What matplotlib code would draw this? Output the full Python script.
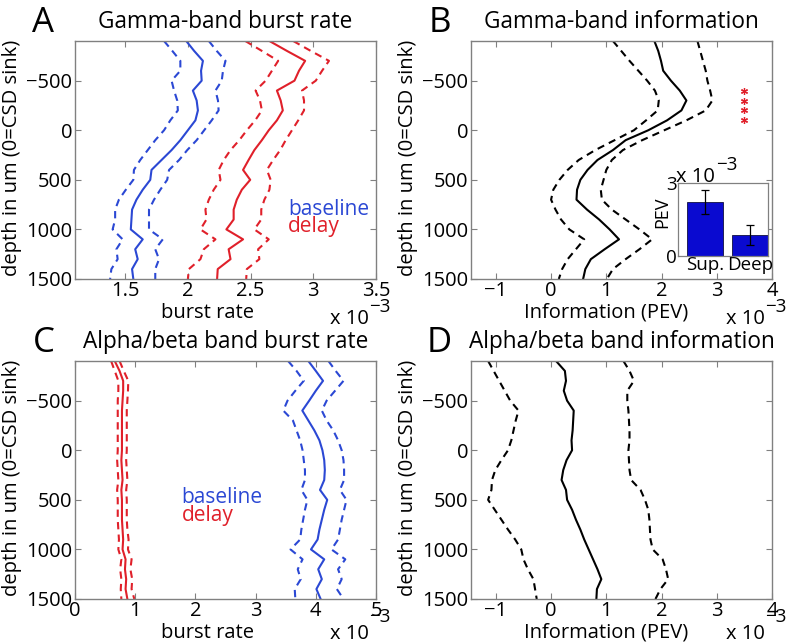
import matplotlib
matplotlib.use('Agg')
import matplotlib.pyplot as plt

plt.rcParams['font.family'] = ['Open Sans', 'DejaVu Sans']

# ---------------- data (x values in units of 1e-3) ----------------
depth = [-900, -800, -700, -600, -500, -400, -300, -200, -100, 0, 100, 200, 300,
         400, 500, 600, 700, 800, 900, 1000, 1100, 1200, 1300, 1400, 1500]

# A: gamma-band burst rate
A_base = [1.987, 2.05, 2.12, 2.105, 2.11, 2.04, 2.07, 2.08, 2.06, 2.00, 1.94, 1.87, 1.79,
          1.71, 1.70, 1.64, 1.59, 1.555, 1.55, 1.545, 1.64, 1.58, 1.60, 1.555, 1.565]
A_base_lo = [1.81, 1.876, 1.94, 1.94, 1.87, 1.89, 1.915, 1.92, 1.86, 1.81, 1.74, 1.68, 1.62,
             1.57, 1.565, 1.505, 1.45, 1.42, 1.42, 1.40, 1.48, 1.43, 1.44, 1.39, 1.38]
A_base_hi = [2.167, 2.23, 2.30, 2.28, 2.27, 2.22, 2.24, 2.245, 2.19, 2.13, 2.07, 1.995, 1.93,
             1.85, 1.835, 1.78, 1.73, 1.69, 1.69, 1.69, 1.80, 1.74, 1.77, 1.74, 1.74]
A_delay = [2.65, 2.79, 2.935, 2.886, 2.85, 2.71, 2.74, 2.757, 2.71, 2.645, 2.59, 2.53, 2.484,
           2.44, 2.497, 2.43, 2.39, 2.365, 2.365, 2.307, 2.44, 2.325, 2.34, 2.238, 2.233]
A_delay_lo = [2.458, 2.59, 2.72, 2.67, 2.62, 2.54, 2.575, 2.59, 2.537, 2.47, 2.41, 2.34, 2.286,
              2.246, 2.26, 2.206, 2.167, 2.14, 2.148, 2.10, 2.22, 2.127, 2.10, 2.008, 2.0]
A_delay_hi = [2.84, 2.98, 3.125, 3.07, 3.02, 2.91, 2.926, 2.926, 2.88, 2.83, 2.78, 2.736, 2.68,
              2.63, 2.66, 2.65, 2.61, 2.585, 2.585, 2.53, 2.645, 2.56, 2.57, 2.47, 2.465]

# B: gamma-band information (PEV)
B_mean = [1.87, 1.94, 1.99, 2.03, 2.17, 2.33, 2.45, 2.36, 2.10, 1.76, 1.35, 1.12, 0.84,
          0.66, 0.53, 0.47, 0.46, 0.65, 0.87, 1.06, 1.23, 0.97, 0.72, 0.62, 0.58]
B_lo = [1.12, 1.27, 1.42, 1.58, 1.74, 1.88, 1.95, 1.93, 1.72, 1.50, 1.15, 0.80, 0.50,
        0.30, 0.15, 0.04, 0.0, 0.08, 0.18, 0.33, 0.60, 0.45, 0.30, 0.20, 0.14]
B_hi = [2.65, 2.70, 2.75, 2.80, 2.83, 2.88, 2.92, 2.80, 2.45, 2.05, 1.65, 1.30, 1.10,
        1.00, 0.95, 0.90, 0.92, 1.10, 1.35, 1.60, 1.83, 1.60, 1.35, 1.12, 1.01]
sig_depth = [-400, -300, -200, -100]
sig_x = [3.5, 3.5, 3.5, 3.5]

# B inset
inset_cats = ['Sup.', 'Deep']
inset_vals = [2.21, 0.86]
inset_err = [0.50, 0.42]

# C: alpha/beta burst rate
C_base = [3.876, 4.0, 4.12, 4.0, 3.89, 3.776, 3.876, 3.976, 4.06, 4.11, 4.14, 4.15, 4.14,
          4.07, 4.19, 4.14, 4.10, 4.06, 4.03, 3.92, 4.14, 4.04, 4.10, 4.01, 4.08]
C_base_lo = [3.54, 3.68, 3.80, 3.66, 3.53, 3.46, 3.62, 3.68, 3.74, 3.78, 3.80, 3.82, 3.82,
             3.76, 3.86, 3.82, 3.79, 3.76, 3.74, 3.58, 3.78, 3.70, 3.75, 3.65, 3.66]
C_base_hi = [4.21, 4.33, 4.46, 4.32, 4.18, 4.10, 4.18, 4.29, 4.37, 4.43, 4.46, 4.47, 4.47,
             4.40, 4.51, 4.47, 4.43, 4.40, 4.37, 4.26, 4.49, 4.37, 4.43, 4.35, 4.46]
C_delay = [0.66, 0.74, 0.80, 0.80, 0.79, 0.78, 0.78, 0.78, 0.78, 0.78, 0.77, 0.78, 0.79,
           0.77, 0.78, 0.78, 0.78, 0.79, 0.80, 0.79, 0.84, 0.83, 0.85, 0.84, 0.87]
C_delay_lo = [0.60, 0.66, 0.72, 0.72, 0.71, 0.71, 0.71, 0.71, 0.71, 0.71, 0.70, 0.71, 0.72,
              0.70, 0.71, 0.71, 0.71, 0.72, 0.73, 0.72, 0.77, 0.75, 0.77, 0.76, 0.77]
C_delay_hi = [0.74, 0.81, 0.885, 0.88, 0.87, 0.86, 0.86, 0.86, 0.86, 0.86, 0.85, 0.86, 0.87,
              0.85, 0.86, 0.86, 0.86, 0.87, 0.89, 0.88, 0.94, 0.92, 0.95, 0.94, 0.985]

# D: alpha/beta information (PEV)
D_mean = [0.09, 0.25, 0.27, 0.23, 0.29, 0.41, 0.40, 0.39, 0.37, 0.38, 0.28, 0.22, 0.19,
          0.27, 0.29, 0.38, 0.45, 0.53, 0.60, 0.68, 0.76, 0.84, 0.91, 0.83, 0.82]
D_lo = [-1.14, -1.04, -0.94, -0.84, -0.74, -0.59, -0.64, -0.68, -0.72, -0.78, -0.90, -1.01, -1.07,
        -1.08, -1.14, -1.02, -0.90, -0.78, -0.65, -0.54, -0.50, -0.42, -0.32, -0.29, -0.26]
D_hi = [1.31, 1.42, 1.50, 1.38, 1.38, 1.40, 1.41, 1.42, 1.42, 1.40, 1.41, 1.42, 1.45,
        1.62, 1.70, 1.76, 1.78, 1.79, 1.80, 1.84, 2.02, 2.08, 2.12, 1.98, 1.89]

titles = ['Gamma-band burst rate', 'Gamma-band information',
          'Alpha/beta band burst rate', 'Alpha/beta band information']
letters = ['A', 'B', 'C', 'D']
xlabels = ['burst rate', 'Information (PEV)', 'burst rate', 'Information (PEV)']
ylabel = 'depth in um (0=CSD sink)'
yticks = [-500, 0, 500, 1000, 1500]
ytick_labels = ['\u2212500', '0', '500', '1000', '1500']

# ---------------- styling ----------------
W, H = 796, 643
BLUE = '#2b48d4'
RED = '#e0202a'
FRAME = '#808080'
DASH = (0, (3.5, 2.5))
LW = 1.5
TICK_FS = 14.5

fig = plt.figure(figsize=(W / 100, H / 100), dpi=100)


def add_ax(x0, y0, x1, y1):
    return fig.add_axes([x0 / W, 1 - y1 / H, (x1 - x0) / W, (y1 - y0) / H])


def ftext(x, y, s, **kw):
    return fig.text(x / W, 1 - y / H, s, **kw)


def style(ax, xlim, xticks, xticklabels):
    ax.set_ylim(1500, -900)
    ax.set_yticks(yticks)
    ax.set_yticklabels(ytick_labels)
    ax.set_xlim(*xlim)
    ax.set_xticks(xticks)
    ax.set_xticklabels(xticklabels)
    for s in ax.spines.values():
        s.set_color(FRAME)
        s.set_linewidth(1.0)
    ax.tick_params(direction='in', top=True, right=True, length=4, width=0.8,
                   color=FRAME, labelsize=TICK_FS, labelcolor='black')
    ax.tick_params(axis='x', pad=1.5)
    ax.tick_params(axis='y', pad=2)


boxes = [(75, 41, 376, 279), (471, 41, 772, 279), (75, 361, 376, 599), (471, 361, 772, 599)]
axs = [add_ax(*b) for b in boxes]

# A
ax = axs[0]
ax.plot(A_base, depth, color=BLUE, lw=LW)
ax.plot(A_base_lo, depth, color=BLUE, lw=LW, ls=DASH)
ax.plot(A_base_hi, depth, color=BLUE, lw=LW, ls=DASH)
ax.plot(A_delay, depth, color=RED, lw=LW)
ax.plot(A_delay_lo, depth, color=RED, lw=LW, ls=DASH)
ax.plot(A_delay_hi, depth, color=RED, lw=LW, ls=DASH)
style(ax, (1.1, 3.5), [1.5, 2, 2.5, 3, 3.5], ['1.5', '2', '2.5', '3', '3.5'])
ax.text(2.80, 800, 'baseline', color=BLUE, fontsize=15, va='center', ha='left')
ax.text(2.80, 975, 'delay', color=RED, fontsize=15, va='center', ha='left')

# B
ax = axs[1]
ax.plot(B_mean, depth, color='black', lw=LW)
ax.plot(B_lo, depth, color='black', lw=LW, ls=DASH)
ax.plot(B_hi, depth, color='black', lw=LW, ls=DASH)
ax.plot(sig_x, sig_depth, ls='none', marker=(6, 2, 0), ms=5, mew=0.9, color=RED)
style(ax, (-1.45, 4), [-1, 0, 1, 2, 3, 4], ['\u22121', '0', '1', '2', '3', '4'])

# C
ax = axs[2]
ax.plot(C_delay, depth, color=RED, lw=LW)
ax.plot(C_delay_lo, depth, color=RED, lw=LW, ls=DASH)
ax.plot(C_delay_hi, depth, color=RED, lw=LW, ls=DASH)
ax.plot(C_base, depth, color=BLUE, lw=LW)
ax.plot(C_base_lo, depth, color=BLUE, lw=LW, ls=DASH)
ax.plot(C_base_hi, depth, color=BLUE, lw=LW, ls=DASH)
style(ax, (0, 5), [0, 1, 2, 3, 4, 5], ['0', '1', '2', '3', '4', '5'])
ax.text(1.77, 480, 'baseline', color=BLUE, fontsize=15, va='center', ha='left')
ax.text(1.77, 660, 'delay', color=RED, fontsize=15, va='center', ha='left')

# D
ax = axs[3]
ax.plot(D_mean, depth, color='black', lw=LW)
ax.plot(D_lo, depth, color='black', lw=LW, ls=DASH)
ax.plot(D_hi, depth, color='black', lw=LW, ls=DASH)
style(ax, (-1.45, 4), [-1, 0, 1, 2, 3, 4], ['\u22121', '0', '1', '2', '3', '4'])

xlab_cx = [207.5, 606.5, 207.5, 606.5]
for i, (ax, (x0, y0, x1, y1)) in enumerate(zip(axs, boxes)):
    w, h = x1 - x0, y1 - y0
    ax.set_title(titles[i], fontsize=16.3, y=1 + 12.5 / h, va='baseline', pad=0)
    ax.set_xlabel(xlabels[i], fontsize=14.5)
    ax.xaxis.set_label_coords((xlab_cx[i] - x0) / w, -38.5 / h)
    ax.xaxis.label.set_va('baseline')
    ax.set_ylabel(ylabel, fontsize=14.5)
    ax.yaxis.set_label_coords((x0 - 63 - x0) / w, 0.51)
    ax.yaxis.label.set_va('center')
    # panel letter
    ftext(x0 - 31.5, y0 - 8.5, letters[i], fontsize=25, ha='center', va='baseline')
    # exponent label (x 10^-3), placed as in the reference
    if i < 2:
        ftext(x1 - 46, y1 + 45, 'x 10', fontsize=14.5, ha='left', va='baseline')
        ftext(x1 - 7, y1 + 33, '\u22123', fontsize=13.5, ha='left', va='baseline')
    else:
        ftext(x1 - 46, y1 + 40, 'x 10', fontsize=14.5, ha='left', va='baseline')
        ftext(x1 - 7, y1 + 23, '\u22123', fontsize=13.5, ha='left', va='baseline')

# inset in B
axi = add_ax(678, 183, 768, 256)
axi.bar([1, 2], inset_vals, width=0.8, color='#0a0ad0', edgecolor='#101040', linewidth=0.6,
        yerr=inset_err, capsize=3, error_kw=dict(ecolor='black', elinewidth=0.9, capthick=0.9))
axi.set_xlim(0.4, 2.4)
axi.set_ylim(0, 3)
axi.set_xticks([1, 2])
axi.set_xticklabels(inset_cats)
axi.set_yticks([0, 3])
axi.set_yticklabels(['0', '3'])
for s in axi.spines.values():
    s.set_color(FRAME)
    s.set_linewidth(0.9)
axi.tick_params(direction='in', top=False, right=False, length=0, labelsize=13.5)
axi.tick_params(axis='x', pad=0)
axi.tick_params(axis='y', pad=1)
axi.set_ylabel('PEV', fontsize=13)
axi.yaxis.set_label_coords((662 - 678) / 90, (256 - 212) / 73)
axi.yaxis.label.set_va('center')
ftext(676, 181.5, 'x 10', fontsize=14.5, ha='left', va='baseline')
ftext(716, 170, '\u22123', fontsize=13.5, ha='left', va='baseline')

fig.savefig('out.png', dpi=100)
